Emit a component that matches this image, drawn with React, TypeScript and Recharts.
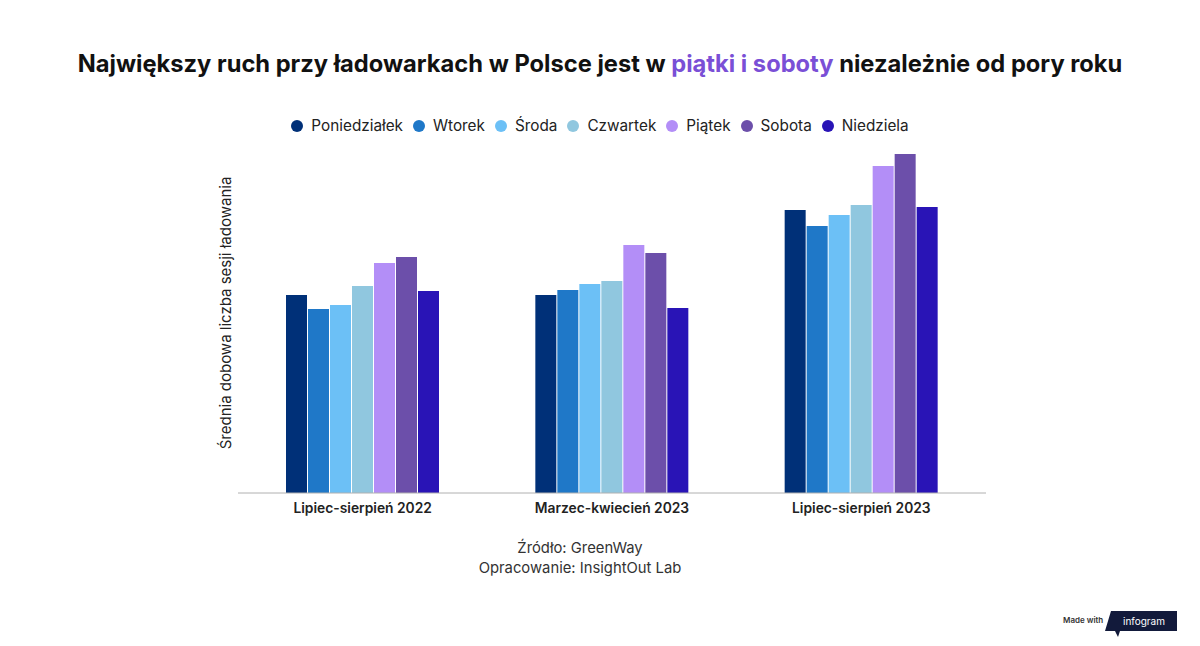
import React from 'react';
import { BarChart, Bar, XAxis, YAxis } from 'recharts';

const categories = ['Lipiec-sierpień 2022', 'Marzec-kwiecień 2023', 'Lipiec-sierpień 2023'];

const days = ['Poniedziałek', 'Wtorek', 'Środa', 'Czwartek', 'Piątek', 'Sobota', 'Niedziela'];

const dayColors = ['#003078', '#1f78c8', '#6cc0f6', '#90c7df', '#b38ef7', '#6c4faa', '#2914b6'];

const poniedzialek = [198, 198, 283];
const wtorek = [184, 203, 267];
const sroda = [188, 209, 278];
const czwartek = [207, 212, 288];
const piatek = [230, 248, 327];
const sobota = [236, 240, 339];
const niedziela = [202, 185, 286];

const series = [poniedzialek, wtorek, sroda, czwartek, piatek, sobota, niedziela];

const data = categories.map((name, i) => {
  const row: Record<string, string | number> = { name };
  days.forEach((d, j) => {
    row[d] = series[j][i];
  });
  return row;
});

const FONT = 'Inter, "Noto Sans", sans-serif';

function DayLegend() {
  return (
    <div style={{ display: 'flex', justifyContent: 'center', fontFamily: FONT, fontSize: 15.3, color: '#222' }}>
      {days.map((d, i) => (
        <div key={d} style={{ display: 'flex', alignItems: 'center', marginRight: i < days.length - 1 ? 10 : 0 }}>
          <span
            style={{
              width: 12,
              height: 12,
              borderRadius: '50%',
              background: dayColors[i],
              display: 'inline-block',
              marginRight: 8,
            }}
          />
          <span>{d}</span>
        </div>
      ))}
    </div>
  );
}

export default function App() {
  return (
    <div style={{ position: 'absolute', left: 0, top: 0, width: 1200, height: 646, background: '#fff', overflow: 'hidden' }}>
      <div
        style={{
          position: 'absolute',
          top: 49,
          left: 0,
          width: 1200,
          textAlign: 'center',
          fontFamily: FONT,
          fontWeight: 700,
          fontSize: 23.7,
          color: '#111',
        }}
      >
        Największy ruch przy ładowarkach w Polsce jest w <span style={{ color: '#7a4fd6' }}>piątki i soboty</span>{' '}
        niezależnie od pory roku
      </div>

      <div style={{ position: 'absolute', top: 116, left: 0, width: 1200 }}>
        <DayLegend />
      </div>

      <div
        style={{
          position: 'absolute',
          left: 225,
          top: 313,
          transform: 'translate(-50%, -50%) rotate(-90deg)',
          whiteSpace: 'nowrap',
          fontFamily: FONT,
          fontSize: 15,
          color: '#222',
        }}
      >
        Średnia dobowa liczba sesji ładowania
      </div>

      <div style={{ position: 'absolute', left: 0, top: 0 }}>
        <BarChart
          width={1200}
          height={646}
          data={data}
          margin={{ top: 133, right: 214, bottom: 123, left: 238 }}
          barGap={1}
          barSize={21}
        >
          <XAxis
            dataKey="name"
            height={30}
            axisLine={{ stroke: '#b0b0b0', strokeWidth: 1 }}
            tickLine={false}
            tick={{ fill: '#222', fontSize: 13.8, fontFamily: FONT, fontWeight: 600 }}
            tickMargin={4}
          />
          <YAxis hide domain={[0, 360]} allowDataOverflow />
          {days.map((d, i) => (
            <Bar key={d} dataKey={d} fill={dayColors[i]} isAnimationActive={false} />
          ))}
        </BarChart>
      </div>

      <div
        style={{
          position: 'absolute',
          top: 538,
          left: 380,
          width: 400,
          textAlign: 'center',
          fontFamily: FONT,
          fontSize: 14.8,
          lineHeight: '20px',
          color: '#333',
        }}
      >
        <div>Źródło: GreenWay</div>
        <div>Opracowanie: InsightOut Lab</div>
      </div>

      <div
        style={{
          position: 'absolute',
          top: 615,
          left: 1063,
          fontFamily: FONT,
          fontWeight: 600,
          fontSize: 8,
          color: '#333',
        }}
      >
        Made with
      </div>
      <svg style={{ position: 'absolute', left: 1104, top: 609 }} width={76} height={30}>
        <polygon points="7,2 73,2 73,22 16,22 14,28 11,22 1,22" fill="#121a3b" />
        <text x={40} y={16} textAnchor="middle" fill="#fff" fontSize={10} fontFamily={FONT}>
          infogram
        </text>
      </svg>
    </div>
  );
}
